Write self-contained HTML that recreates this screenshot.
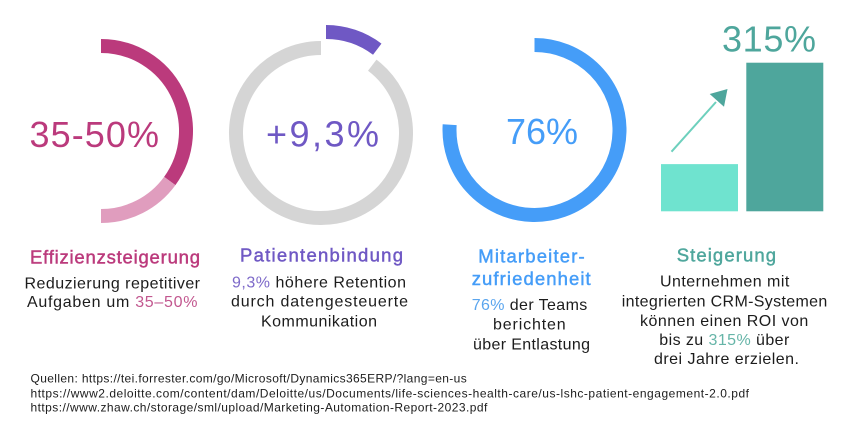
<!DOCTYPE html>
<html lang="de">
<head>
<meta charset="utf-8">
<title>Kennzahlen</title>
<style>
html,body{margin:0;padding:0;background:#fff;width:848px;height:425px;overflow:hidden}
svg{display:block}
text{font-family:"Liberation Sans",sans-serif;white-space:pre}
.big{font-size:36px}
.title{font-size:18.5px;stroke-width:.45px}
.body{font-size:16px;fill:#1c1c1c}
.src{font-size:12px;fill:#1c1c1c}
</style>
</head>
<body>
<svg id="chart" xmlns="http://www.w3.org/2000/svg" width="848" height="425" viewBox="0 0 848 425">
  <g id="marks"></g>

  <path d="M671.5 151.7L716 102" stroke="#6dd0bd" stroke-width="2" fill="none"/>
  <path d="M727.5 89L709.7 94L724 106.7Z" fill="#4ea69c"/>

  <text class="big" x="29.5" y="147" fill="#bb3a7c" textLength="129.5" lengthAdjust="spacing">35-50%</text>
  <text class="big" x="266" y="146.7" fill="#6f58c4" textLength="113" lengthAdjust="spacing">+9,3%</text>
  <text class="big" x="506" y="144" fill="#459df8" textLength="72" lengthAdjust="spacing">76%</text>
  <text class="big" x="722" y="51.7" fill="#4ea69c" textLength="94" lengthAdjust="spacing">315%</text>

  <text class="title" x="30" y="263.5" fill="#bb3a7c" stroke="#bb3a7c" textLength="170" lengthAdjust="spacing">Effizienzsteigerung</text>
  <text class="body" x="24.5" y="288.3" textLength="175.5" lengthAdjust="spacing">Reduzierung repetitiver</text>
  <text class="body" x="27" y="307" textLength="170.5" lengthAdjust="spacing">Aufgaben um <tspan fill="#c2578f">35–50%</tspan></text>

  <text class="title" x="240" y="261.7" fill="#6f58c4" stroke="#6f58c4" textLength="163" lengthAdjust="spacing">Patientenbindung</text>
  <text class="body" x="232" y="287.3" textLength="174" lengthAdjust="spacing"><tspan fill="#7d69c9">9,3%</tspan> höhere Retention</text>
  <text class="body" x="231" y="306.3" textLength="177" lengthAdjust="spacing">durch datengesteuerte</text>
  <text class="body" x="261" y="326.3" textLength="116" lengthAdjust="spacing">Kommunikation</text>

  <text class="title" x="478.3" y="262.3" fill="#459df8" stroke="#459df8" textLength="106.4" lengthAdjust="spacing">Mitarbeiter-</text>
  <text class="title" x="471.7" y="285" fill="#459df8" stroke="#459df8" textLength="119" lengthAdjust="spacing">zufriedenheit</text>
  <text class="body" x="471.7" y="310" textLength="115.6" lengthAdjust="spacing"><tspan fill="#5aa5ee">76%</tspan> der Teams</text>
  <text class="body" x="493" y="329.3" textLength="72.7" lengthAdjust="spacing">berichten</text>
  <text class="body" x="473" y="349.3" textLength="117" lengthAdjust="spacing">über Entlastung</text>

  <text class="title" x="676.7" y="261.7" fill="#4ea69c" stroke="#4ea69c" textLength="99.3" lengthAdjust="spacing">Steigerung</text>
  <text class="body" x="660" y="286.7" textLength="129.3" lengthAdjust="spacing">Unternehmen mit</text>
  <text class="body" x="621.7" y="306.3" textLength="205.6" lengthAdjust="spacing">integrierten CRM-Systemen</text>
  <text class="body" x="640" y="326" textLength="168.3" lengthAdjust="spacing">können einen ROI von</text>
  <text class="body" x="659.3" y="345" textLength="130" lengthAdjust="spacing">bis zu <tspan fill="#66b5a8">315%</tspan> über</text>
  <text class="body" x="654" y="364" textLength="145" lengthAdjust="spacing">drei Jahre erzielen.</text>

  <text class="src" x="30.5" y="382.7" textLength="436.2" lengthAdjust="spacing">Quellen: https://tei.forrester.com/go/Microsoft/Dynamics365ERP/?lang=en-us</text>
  <text class="src" x="30.5" y="397.3" textLength="718.5" lengthAdjust="spacing">https://www2.deloitte.com/content/dam/Deloitte/us/Documents/life-sciences-health-care/us-lshc-patient-engagement-2.0.pdf</text>
  <text class="src" x="30.5" y="411.7" textLength="456.8" lengthAdjust="spacing">https://www.zhaw.ch/storage/sml/upload/Marketing-Automation-Report-2023.pdf</text>
</svg>
<script>
// Values (percent of a full ring).
const efficiencyRange = [35, 50];
const retentionSlice = [10.3];
const satisfactionShare = [76];
const roiBars = [100, 315];

const SVG_NS = 'http://www.w3.org/2000/svg';
const marks = document.getElementById('marks');

function angleOf(percent) {
  return percent * 3.6;
}
function point(cx, cy, r, deg) {
  const a = (deg - 90) * Math.PI / 180;
  return [cx + r * Math.cos(a), cy + r * Math.sin(a)];
}
function arcPath(cx, cy, r, fromPct, toPct) {
  const from = angleOf(fromPct);
  const to = angleOf(toPct);
  const s = point(cx, cy, r, from);
  const e = point(cx, cy, r, to);
  const large = to - from > 180 ? 1 : 0;
  return 'M' + s[0] + ' ' + s[1] + 'A' + r + ' ' + r + ' 0 ' + large + ' 1 ' + e[0] + ' ' + e[1];
}
function addArc(name, cx, cy, fromPct, toPct, color) {
  const el = document.createElementNS(SVG_NS, 'path');
  
  
  el.setAttribute('d', arcPath(cx, cy, 85, fromPct, toPct));
  el.setAttribute('fill', 'none');
  el.setAttribute('stroke', color);
  el.setAttribute('stroke-width', '14');
  marks.appendChild(el);
}

addArc('efficiency-arc-low', 101, 131, 0, efficiencyRange[0], '#bb3a7c');
addArc('efficiency-arc-high', 101, 131, efficiencyRange[0], efficiencyRange[1], '#e09dbe');
addArc('retention-arc-rest', 321, 133, retentionSlice[0], 100, '#d5d5d5');
addArc('retention-arc-slice', 326, 117, 0, retentionSlice[0], '#6f58c4');
addArc('satisfaction-arc', 534.5, 130, 0, satisfactionShare[0], '#459df8');

const barBase = 211.3;
const barScale = 148.6 / 315;
const barLefts = { 0: 661, 1: 746.3 };
const barColors = ['#6fe3cf', '#4ea69c'];
function barY(v) {
  return barBase - v * barScale;
}
roiBars.forEach(function (v, i) {
  const el = document.createElementNS(SVG_NS, 'rect');
  
  
  el.setAttribute('x', barLefts[i]);
  el.setAttribute('y', barY(v));
  el.setAttribute('width', 77);
  el.setAttribute('height', barBase - barY(v));
  el.setAttribute('fill', barColors[i]);
  marks.appendChild(el);
});
</script>
</body>
</html>
